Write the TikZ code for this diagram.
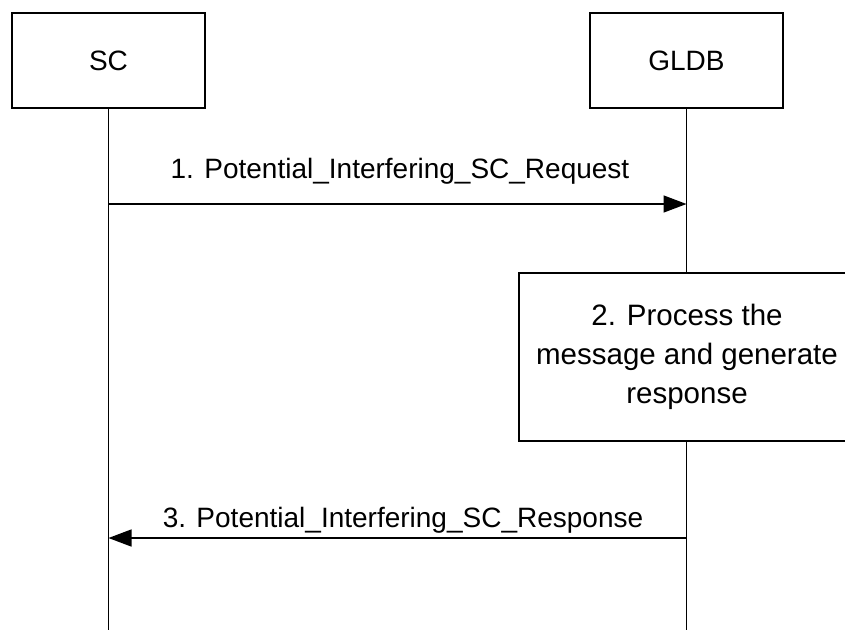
\documentclass[tikz,border=0pt]{standalone}
\usepackage{fontspec}
\setmainfont{Liberation Sans}
\usetikzlibrary{arrows.meta, positioning}

\begin{document}
\begin{tikzpicture}[
    x=1pt, y=-1pt,
    line width=1.5pt,
    box/.style={draw, fill=white, font=\fontsize{28}{34}\selectfont, minimum width=193pt, minimum height=95pt, inner sep=0pt},
    proc/.style={draw, fill=white, font=\fontsize{29.5}{39}\selectfont, align=center, minimum width=336pt, minimum height=168pt, inner sep=0pt},
    msg/.style={font=\fontsize{28}{34}\selectfont, anchor=base},
    arr/.style={-{Triangle[length=23pt, width=17pt]}}
]
    \useasboundingbox (0,0) rectangle (845,630);

    \node[box] (sc) at (108.5, 60.5) {SC};
    \node[box] (gldb) at (686.5, 60.5) {GLDB};
    \node[proc] (proc) at (687, 357) {2. Process the\\message and generate\\response};

    % lifelines
    \coordinate (scEnd) at (108.5, 630);
    \coordinate (gldbEnd) at (686.5, 630);
    \draw (sc) -- (scEnd);
    \draw (gldb) -- (gldb.south |- proc.north);
    \draw (gldb.south |- proc.south) -- (gldbEnd);

    % messages
    \coordinate (reqA) at (108.5, 204);
    \coordinate (reqB) at (686.5, 204);
    \draw[arr] (reqA) -- (reqB);
    \node[msg] (reqLbl) at (400, 178) {1. Potential\_Interfering\_SC\_Request};

    \coordinate (rspA) at (686.5, 538);
    \coordinate (rspB) at (108.5, 538);
    \draw[arr] (rspA) -- (rspB);
    \node[msg] (rspLbl) at (403, 527) {3. Potential\_Interfering\_SC\_Response};
\end{tikzpicture}
\end{document}
